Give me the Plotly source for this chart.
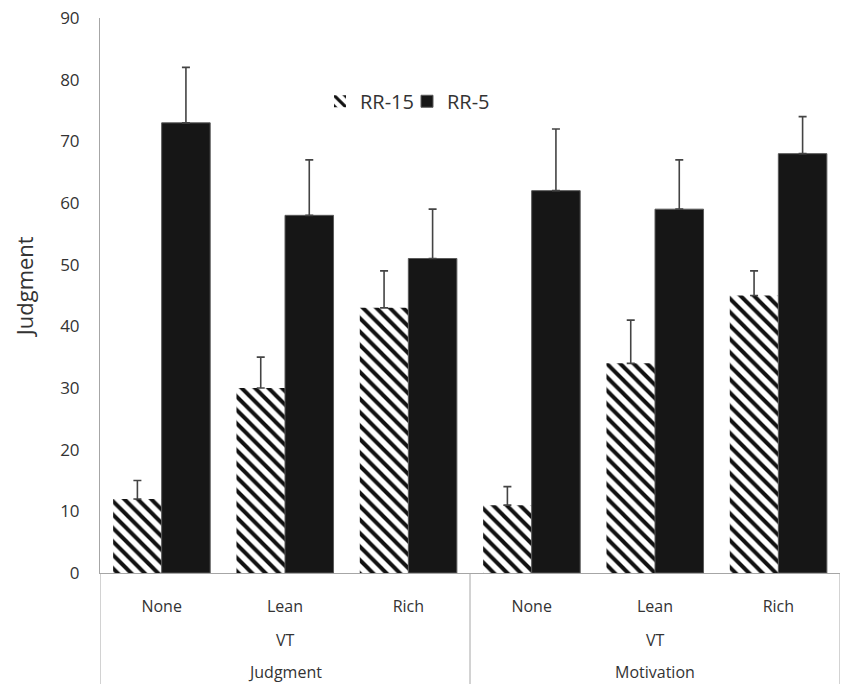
import plotly.graph_objects as go

# Condition labels (three nested levels on the category axis)
levels = ["None", "Lean", "Rich"]
groups = ["Judgment", "Motivation"]
middle_label = "VT"
y_title = "Judgment"

# Mean judgment and upper error (SE) for each rate condition
rr15_mean = [12, 30, 43, 11, 34, 45]
rr15_err = [3, 5, 6, 3, 7, 4]
rr5_mean = [73, 58, 51, 62, 59, 68]
rr5_err = [9, 9, 8, 10, 8, 6]

cats = [f"{g}|{lv}" for g in groups for lv in levels]
tick_text = [lv for g in groups for lv in levels]

FONT = "Open Sans"
TXT = "#333333"
AX = "#a6a6a6"

fig = go.Figure()
fig.add_trace(go.Bar(
    name="RR-15", x=cats, y=rr15_mean,
    marker=dict(
        color="white",
        line=dict(width=0),
        pattern=dict(shape="\\", fgcolor="#111111", bgcolor="white",
                     size=9.5, solidity=0.42, fillmode="replace"),
    ),
    error_y=dict(type="data", symmetric=False, array=rr15_err,
                 arrayminus=[0] * len(rr15_err), color="#444444",
                 thickness=1.6, width=4),
))
fig.add_trace(go.Bar(
    name="RR-5", x=cats, y=rr5_mean,
    marker=dict(color="#161616", line=dict(color="#5a5a5a", width=1)),
    error_y=dict(type="data", symmetric=False, array=rr5_err,
                 arrayminus=[0] * len(rr5_err), color="#444444",
                 thickness=1.6, width=4),
))

# Second and third rows of the category axis, plus the y-axis title
annotations = []
for gi, g in enumerate(groups):
    mid = gi * 3 + 1
    annotations.append(dict(x=mid, xref="x", yref="paper", y=0, yshift=-67,
                            yanchor="middle", text=middle_label,
                            showarrow=False,
                            font=dict(family=FONT, size=16, color=TXT)))
    annotations.append(dict(x=mid, xref="x", yref="paper", y=0, yshift=-99,
                            yanchor="middle", text=g, showarrow=False,
                            font=dict(family=FONT, size=16, color=TXT)))
annotations.append(dict(x=0, xref="paper", xshift=-76, xanchor="center",
                        y=0.515, yref="paper", yanchor="middle",
                        text=y_title, textangle=-90, showarrow=False,
                        font=dict(family=FONT, size=22, color=TXT)))

# Vertical dividers between the category groups
shapes = []
for xpos in [-0.5, 2.5, 5.5]:
    shapes.append(dict(type="line", xref="x", yref="paper",
                       x0=xpos, x1=xpos, y0=0, y1=-0.25,
                       line=dict(color=AX, width=1)))

fig.update_layout(
    width=842, height=684,
    margin=dict(l=100, r=2, t=18, b=111),
    paper_bgcolor="white", plot_bgcolor="white",
    barmode="group", bargap=0.213, bargroupgap=0,
    showlegend=True,
    legend=dict(orientation="h", x=(320 - 100) / 740, y=0.85,
                xanchor="left", yanchor="middle",
                font=dict(family=FONT, size=20, color=TXT),
                bgcolor="rgba(0,0,0,0)", itemwidth=30,
                entrywidth=42, entrywidthmode="pixels"),
    annotations=annotations,
    shapes=shapes,
    font=dict(family=FONT, color=TXT),
)
fig.update_xaxes(
    type="category", categoryorder="array", categoryarray=cats,
    tickvals=cats, ticktext=tick_text, range=[-0.5, 5.5],
    showline=True, linecolor=AX, linewidth=1,
    ticks="outside", ticklen=19, tickcolor="rgba(0,0,0,0)",
    tickfont=dict(family=FONT, size=16, color=TXT),
    showgrid=False, zeroline=False,
)
fig.update_yaxes(
    range=[0, 90], dtick=10, tick0=0,
    showline=True, linecolor=AX, linewidth=1,
    ticks="", ticklabelstandoff=16,
    tickfont=dict(family=FONT, size=17, color=TXT),
    showgrid=False, zeroline=False,
)

fig.write_html("out.html")
